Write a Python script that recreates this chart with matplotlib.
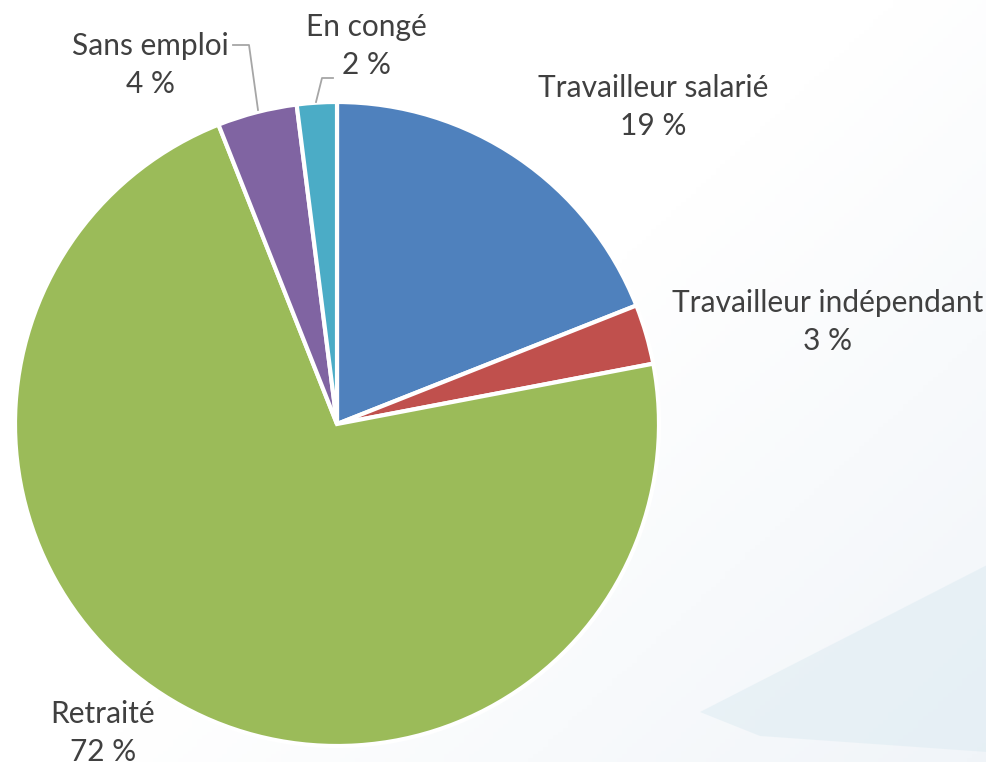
import numpy as np
import matplotlib.pyplot as plt
from matplotlib.patches import Polygon

# données
labels = ['Travailleur salarié', 'Travailleur indépendant', 'Retraité', 'Sans emploi', 'En congé']
values = [19, 3, 72, 4, 2]
colors = ['#4F81BD', '#C0504D', '#9BBB59', '#8064A2', '#4BACC6']

W, H = 987, 762
fig = plt.figure(figsize=(W / 100, H / 100), dpi=100)
ax = fig.add_axes([0, 0, 1, 1])

# fond léger dégradé (bas droite)
yy, xx = np.mgrid[0:1:200j, 0:1:200j]
grad = np.clip((xx * 0.55 + yy * 0.45 - 0.5) * 1.6, 0, 1)
bg = np.ones((200, 200, 3))
tint = np.array([0.93, 0.95, 0.97])
bg = bg * (1 - grad[..., None]) + tint * grad[..., None]
ax.imshow(bg, extent=[0, W, 0, H], origin='upper', zorder=0, aspect='auto')
ax.add_patch(Polygon([[700, H - 712], [987, H - 565], [987, H - 752], [760, H - 736]],
                     closed=True, facecolor='#dcebf2', edgecolor='none', alpha=0.5, zorder=0.5))

cx, cy, r = 337, H - 424, 322
wedges, _ = ax.pie(values, colors=colors, startangle=90, counterclock=False,
                   center=(cx, cy), radius=r, frame=True,
                   wedgeprops=dict(edgecolor='white', linewidth=3))
ax.set_xlim(0, W)
ax.set_ylim(0, H)
ax.set_aspect('equal')
ax.axis('off')

txt = dict(fontsize=21.5, color='#404040', family=['Lato', 'DejaVu Sans'], ha='center', va='center',
           linespacing=1.45)
pos = {
    'Travailleur salarié': (653, 107),
    'Travailleur indépendant': (828, 322),
    'Retraité': (103, 733),
    'Sans emploi': (150, 65),
    'En congé': (366, 46),
}
for lab, v in zip(labels, values):
    x, y = pos[lab]
    ax.text(x, H - y, f'{lab}\n{v} %', **txt)

# lignes de rappel
lc = '#A6A6A6'
ax.plot([233, 249, 258], [H - 45, H - 45, H - 110], color=lc, lw=1.3)
ax.plot([333, 322, 316], [H - 78, H - 78, H - 102], color=lc, lw=1.3)

fig.savefig('out.png', dpi=100)
